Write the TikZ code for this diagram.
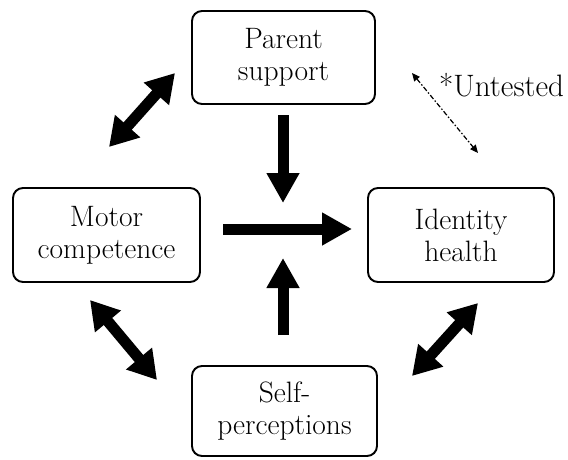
\documentclass[tikz,border=0pt]{standalone}
\usetikzlibrary{arrows.meta}
\begin{document}
\begin{tikzpicture}[x=1pt,y=-1pt,
  box/.style={draw, line width=1.9pt, rounded corners=10pt, align=center,
    font=\fontsize{29.5}{32}\selectfont, inner sep=0pt},
  bigarrow/.style={line width=11pt, -{Triangle[length=30pt,width=31pt]}},
  dblarrow/.style={line width=11pt, {Triangle[length=28pt,width=32pt]}-{Triangle[length=28pt,width=32pt]}},
  untested/.style={line width=1.2pt, dash pattern=on 5pt off 2pt on 1.5pt off 2pt,
    {Triangle[length=8pt,width=7pt]}-{Triangle[length=8pt,width=7pt]}}]
\fill[white] (0,0) rectangle (568,460);
\useasboundingbox (0,0) rectangle (568,460);

\node[box, minimum width=183pt, minimum height=93pt] (parent) at (283.5,57.5) {Parent\\support};
\node[box, minimum width=187pt, minimum height=94pt] (motor) at (106.5,235) {Motor\\competence};
\node[box, minimum width=186pt, minimum height=94pt] (identity) at (461,235) {Identity\\health};
\node[box, minimum width=185pt, minimum height=90pt] (self) at (284.5,411) {Self-\\perceptions};
\node[anchor=base west, font=\fontsize{31}{32}\selectfont, inner sep=0pt] (note) at (439,96) {*Untested};

\coordinate (d1) at (283,115); \coordinate (d2) at (283,203);
\coordinate (h1) at (223,229); \coordinate (h2) at (352,229);
\coordinate (u1) at (283,335); \coordinate (u2) at (283,258);
\coordinate (tl1) at (109,147); \coordinate (tl2) at (175,73);
\coordinate (bl1) at (90,300); \coordinate (bl2) at (157,380);
\coordinate (br1) at (412,376); \coordinate (br2) at (478,303);
\coordinate (un1) at (412,73); \coordinate (un2) at (478,153);

\draw[bigarrow] (d1) -- (d2);
\draw[bigarrow] (h1) -- (h2);
\draw[bigarrow] (u1) -- (u2);
\draw[dblarrow] (tl1) -- (tl2);
\draw[dblarrow] (bl1) -- (bl2);
\draw[dblarrow] (br1) -- (br2);
\draw[untested] (un1) -- (un2);
\end{tikzpicture}
\end{document}
